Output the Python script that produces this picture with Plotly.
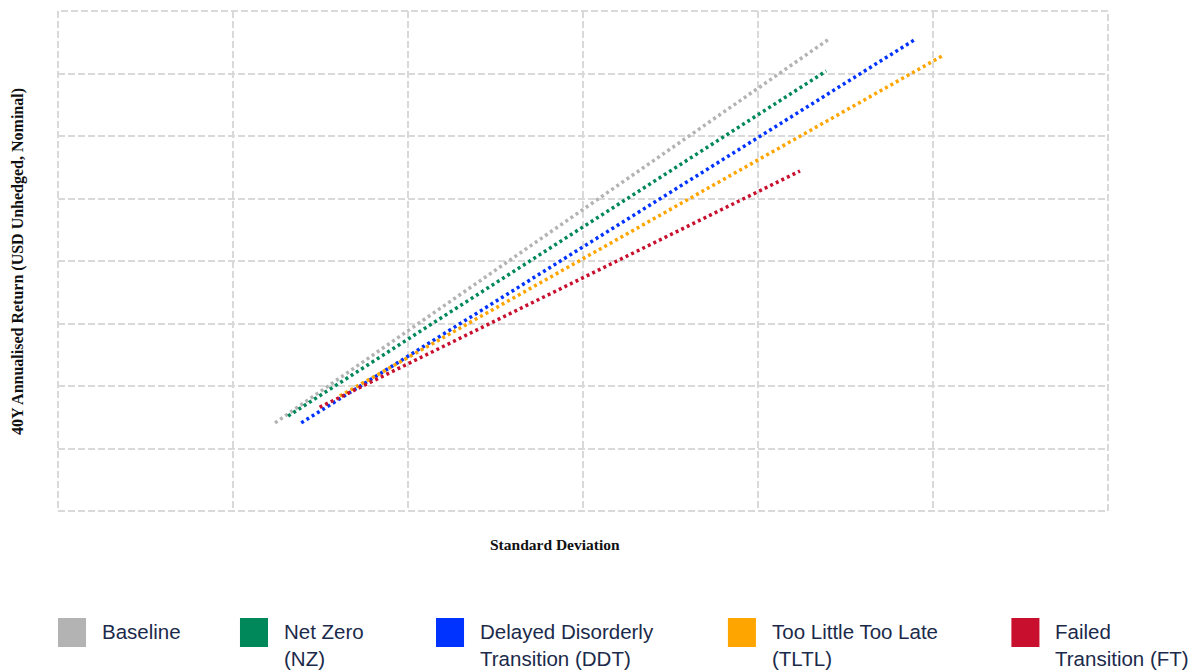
import plotly.graph_objects as go

# Scenario names, colours and frontier end points (standard deviation %, return %)
scenarios = ["Baseline", "Net Zero (NZ)", "Delayed Disorderly Transition (DDT)",
             "Too Little Too Late (TLTL)", "Failed Transition (FT)"]
legend_labels = ["Baseline", "Net Zero<br>(NZ)", "Delayed Disorderly<br>Transition (DDT)",
                 "Too Little Too Late<br>(TLTL)", "Failed<br>Transition (FT)"]
colors = ["#b3b3b3", "#00875a", "#0033ff", "#ffa500", "#c8102e"]

std_start = [2.48, 2.63, 2.78, 3.22, 2.99]
ret_start = [1.41, 1.52, 1.41, 1.84, 1.66]
std_end = [8.80, 8.78, 9.79, 10.13, 8.48]
ret_end = [7.54, 7.04, 7.54, 7.30, 5.44]

x_ticks = [0, 2, 4, 6, 8, 10, 12]
y_ticks = [0, 1, 2, 3, 4, 5, 6, 7, 8]

# legend layout (paper x of each square)
legend_x = [0.0, 0.1733, 0.36, 0.638, 0.908]

GRID = "#d9d9d9"
DASH = "7px,3px"

fig = go.Figure()
for name, c, x0, y0, x1, y1 in zip(scenarios, colors, std_start, ret_start, std_end, ret_end):
    fig.add_trace(go.Scatter(
        x=[x0, x1], y=[y0, y1], mode="lines", name=name,
        line=dict(color=c, width=3.5, dash="3px,3.2px"), showlegend=False,
        hoverinfo="skip"))

axis_common = dict(showticklabels=False, ticks="", zeroline=False, showline=False,
                   showgrid=True, gridcolor=GRID, gridwidth=2, griddash=DASH)

fig.update_layout(
    width=1199, height=670,
    margin=dict(l=50, r=99, t=3, b=167),
    plot_bgcolor="white", paper_bgcolor="white",
    xaxis=dict(range=[0, 12], tickvals=x_ticks, **axis_common),
    yaxis=dict(range=[0, 8], tickvals=y_ticks, **axis_common),
    showlegend=False,
)

annotations = [
    dict(text="<b>Standard Deviation</b>", xref="paper", yref="paper",
         x=0.4737, y=-0.066, xanchor="center", yanchor="middle", showarrow=False,
         font=dict(family="Liberation Serif", size=15.5, color="#111111")),
    dict(text="<b>40Y Annualised Return (USD Unhedged, Nominal)</b>", xref="paper", yref="paper",
         x=-0.0381, y=0.5, xanchor="center", yanchor="middle", textangle=-90, showarrow=False,
         font=dict(family="Liberation Serif", size=16, color="#111111")),
]
shapes = [dict(type="rect", xref="paper", yref="paper", x0=0, x1=1, y0=0, y1=1,
               line=dict(color=GRID, width=2, dash=DASH), layer="below")]
for lx, lab, c in zip(legend_x, legend_labels, colors):
    shapes.append(dict(type="rect", xref="paper", yref="paper",
                       x0=lx, x1=lx + 0.0267, y0=-0.214, y1=-0.272,
                       fillcolor=c, line=dict(width=0)))
    annotations.append(dict(text=lab, xref="paper", yref="paper",
                            x=lx + 0.04, y=-0.214, xanchor="left", yanchor="top",
                            align="left", showarrow=False,
                            font=dict(family="Liberation Sans", size=20.5, color="#1b2a4a")))
fig.update_layout(annotations=annotations, shapes=shapes)

fig.write_html("out.html")
